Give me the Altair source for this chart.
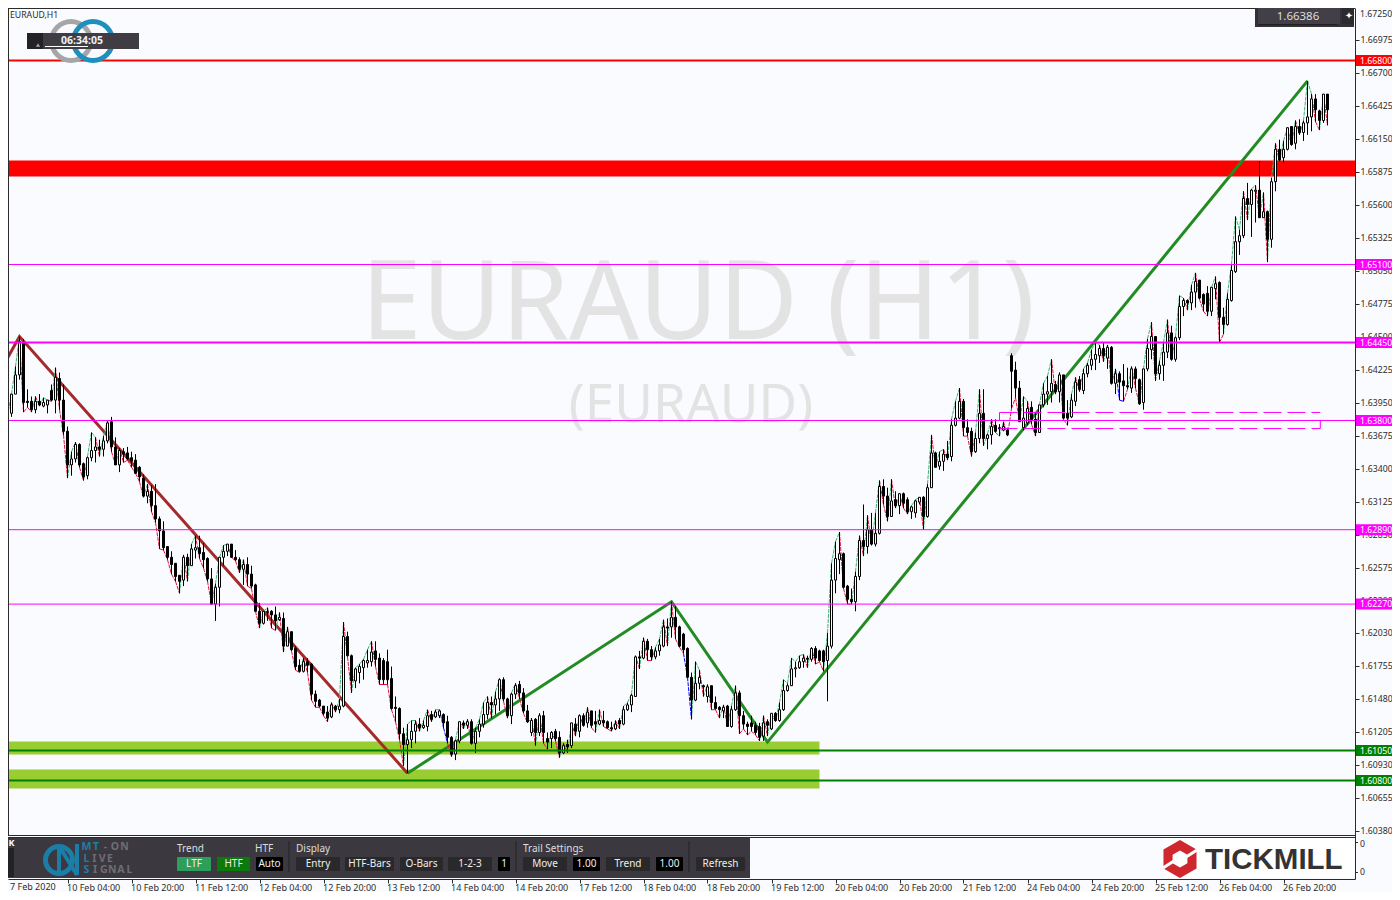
import altair as alt
import pandas as pd

# Bar values, in pips above 1.6000 (1.6 + v / 10000)
opens = [391,402,386,402,418,445,396,396,389,396,
392,393,405,397,415,397,371,343,348,360,
344,334,349,355,358,356,363,379,358,343,
354,353,349,347,341,332,317,321,309,298,
288,275,266,261,251,247,266,259,272,274,
270,265,248,227,241,266,271,277,266,264,
256,260,252,243,221,211,220,221,218,214,
215,192,204,190,176,171,179,177,152,147,
142,137,133,142,139,142,200,184,163,170,
174,178,179,188,182,180,179,165,141,140,
119,110,114,121,127,124,125,135,133,134,
135,129,116,102,113,128,126,129,111,121,
127,135,145,143,148,164,148,134,152,160,
153,138,120,131,120,134,115,115,121,116,
103,110,109,127,121,134,128,138,129,127,
130,129,124,123,130,127,139,143,150,183,
182,196,189,183,188,192,208,208,216,208,
202,190,166,147,161,159,150,159,145,141,
138,142,125,139,153,134,127,128,126,125,
117,129,123,136,130,139,155,159,173,174,
179,182,181,190,188,188,180,192,247,264,
269,242,231,229,250,280,275,289,277,286,
325,317,300,314,309,319,314,304,303,312,
316,300,324,353,342,346,352,350,376,382,
396,374,371,354,365,386,365,368,376,374,
372,372,434,422,407,374,378,391,381,370,
393,402,404,410,404,418,386,383,396,414,
405,419,426,431,434,440,432,441,411,419,
413,409,407,423,414,395,423,439,450,419,
426,437,453,431,449,475,480,478,487,497,
485,486,471,490,495,466,460,480,504,529,
534,565,560,571,572,549,554,531,579,606,
599,606,625,611,625,620,628,633,648,638,
630,652]
highs = [414,403,402,425,450,448,406,400,400,402,
399,397,410,424,420,410,375,354,362,361,
345,350,370,366,364,367,380,383,366,357,
357,358,354,352,342,335,327,326,327,300,
296,275,271,261,251,268,269,277,284,284,
278,266,257,244,266,276,277,277,272,266,
264,266,259,244,228,221,224,222,225,220,
220,208,204,192,181,182,182,178,155,148,
142,142,145,143,148,212,204,185,174,177,
181,189,196,196,186,182,189,175,150,141,
124,127,130,130,132,130,139,138,139,139,
136,134,117,114,129,130,131,131,124,131,
145,150,150,154,165,166,149,153,161,163,
157,143,132,132,136,138,120,121,123,121,
111,114,128,132,135,136,141,138,138,139,
138,130,129,130,132,142,145,152,184,188,
199,198,192,191,198,214,215,229,225,209,
203,191,170,179,172,160,160,159,150,142,
143,143,142,159,155,138,129,134,129,128,
134,131,136,137,145,164,161,182,179,184,
185,184,191,192,189,189,203,261,279,287,
270,243,240,254,284,310,301,303,303,330,
331,324,331,321,319,320,316,309,314,316,
317,327,368,354,354,356,363,381,396,407,
398,381,374,370,406,406,369,381,381,377,
379,374,436,429,413,400,396,396,386,393,
411,417,431,413,420,418,397,402,416,417,
423,428,439,445,443,445,443,442,423,421,
427,424,425,425,415,423,448,462,450,430,
445,464,459,450,484,482,481,493,503,497,
486,492,491,500,496,474,486,510,550,539,
571,578,573,576,596,570,555,582,611,614,
613,624,625,630,631,630,663,652,652,639,
652,652]
lows = [381,384,383,402,414,387,391,387,386,392,
391,386,396,386,389,368,332,334,345,341,
330,331,346,345,350,350,361,354,343,337,
345,347,341,336,329,316,311,304,295,273,
272,264,252,246,236,242,246,259,265,265,
257,246,227,213,225,259,267,266,263,253,
243,242,240,221,207,210,213,207,205,213,
187,192,188,172,170,170,170,147,141,141,
134,129,132,137,136,141,183,153,157,161,
164,174,175,175,160,160,160,139,129,114,
92,86,107,111,121,123,121,129,132,132,
124,111,100,97,111,123,123,110,103,116,
124,131,132,135,138,146,132,127,148,148,
136,128,117,109,117,111,106,107,113,99,
102,103,107,117,116,125,124,124,120,126,
125,123,121,122,123,126,138,137,150,173,
181,180,180,181,184,191,192,199,198,191,
186,166,131,146,156,150,145,139,139,132,
132,125,124,138,119,123,118,121,118,113,
113,117,122,129,129,138,154,159,166,173,
174,174,179,177,179,171,146,190,236,252,
240,227,227,221,247,267,269,276,275,285,
310,296,300,307,302,307,302,298,299,310,
289,299,324,341,339,338,347,346,375,381,
367,367,350,353,361,359,356,360,370,367,
371,367,390,399,379,372,376,377,367,370,
391,393,395,402,395,381,376,382,392,404,
402,416,422,422,428,429,423,410,402,397,
396,406,403,407,393,389,421,431,413,414,
413,432,430,429,447,467,472,472,474,481,
471,467,467,481,445,452,459,479,503,518,
532,547,533,545,549,549,512,524,571,596,
595,605,609,606,618,613,618,621,629,622,
628,626]
closes = [402,386,402,418,446,395,395,389,396,393,
395,397,397,416,397,371,343,348,360,343,
333,349,355,358,356,363,378,358,343,355,
352,348,346,336,333,317,321,309,298,288,
274,266,260,250,246,266,259,273,274,269,
264,248,227,241,266,271,277,266,264,256,
260,252,242,221,211,221,221,218,213,216,
192,204,189,175,171,179,176,152,146,142,
136,132,143,139,142,200,184,163,173,175,
180,180,187,181,164,164,164,140,140,119,
110,114,121,127,124,126,134,131,137,138,
128,116,102,113,129,126,129,111,121,127,
135,145,143,148,164,148,134,152,159,153,
138,129,130,120,134,120,112,120,115,103,
109,108,128,121,134,126,137,126,127,130,
128,124,123,127,127,139,143,151,183,182,
196,189,183,188,193,208,207,216,208,192,
189,166,147,161,166,158,158,145,140,139,
141,125,139,153,134,127,125,125,120,116,
128,126,136,130,139,155,159,173,174,179,
182,181,190,182,180,179,192,247,265,269,
241,231,229,250,280,275,289,277,286,325,
317,300,313,309,319,311,304,308,313,316,
300,324,353,341,346,352,349,376,382,396,
374,370,354,365,386,365,368,375,371,373,
375,368,421,407,379,382,390,381,370,393,
402,404,411,404,418,382,382,397,412,406,
419,426,431,435,440,434,441,411,419,412,
409,408,423,415,394,423,440,450,419,426,
437,453,431,449,475,480,478,487,496,482,
477,471,491,494,466,460,481,505,529,534,
565,560,572,572,549,554,531,579,606,597,
606,624,610,625,620,628,633,648,639,630,
652,639]
blue_bars = [110, 111, 113, 171, 172, 279, 280]

down_bars = [0, 4, 101]
down_prices = [1.6426, 1.6450, 1.6086]
up_bars = [101, 167, 191, 326]
up_prices = [1.6086, 1.6229, 1.6112, 1.6663]

red_levels = [1.66800]
magenta_thin = [1.65100, 1.63800, 1.62890, 1.62270]
magenta_thick = [1.64450]
green_levels = [1.61050, 1.60800]
red_band = [1.65967, 1.65833]
green_bands = [(1.61125, 1.61017), (1.60892, 1.60733)]
band_end_bar = 204
box_prices = [1.63867, 1.63733]
box_bars = [249, 329.2]

price_ticks = [1.66975, 1.66700, 1.66425, 1.66150, 1.65875, 1.65600, 1.65325,
               1.65050, 1.64775, 1.64500, 1.64225, 1.63950, 1.63675, 1.63400,
               1.63125, 1.62850, 1.62575, 1.62300, 1.62030, 1.61755, 1.61480,
               1.61205, 1.60930, 1.60655, 1.60380]
time_ticks = list(range(16, 321, 16))
time_labels = ["10 Feb 04:00", "10 Feb 20:00", "11 Feb 12:00", "12 Feb 04:00",
               "12 Feb 20:00", "13 Feb 12:00", "14 Feb 04:00", "14 Feb 20:00",
               "17 Feb 12:00", "18 Feb 04:00", "18 Feb 20:00", "19 Feb 12:00",
               "20 Feb 04:00", "20 Feb 20:00", "21 Feb 12:00", "24 Feb 04:00",
               "24 Feb 20:00", "25 Feb 12:00", "26 Feb 04:00", "26 Feb 20:00"]

BG = "#fafbfe"
INK = "#2b2b2b"
PANEL = "#3b393f"
BTN = "#29282b"
FONT = "Noto Sans"
SMALL = 8.7
OFF = 8  # page margin: reference pixels are shifted by it

def p(v):
    return 1.6 + v / 10000

rows = []
prev_end = p(opens[0])
for i, (o, h, l, c) in enumerate(zip(opens, highs, lows, closes)):
    up = c >= o
    end = p(h) if up else p(l)
    colour = "#0000ff" if i in blue_bars else ("#3cb371" if up else "#dc143c")
    rows.append(dict(i=i, i0=max(i - 1, 0), o=p(o), h=p(h), l=p(l), c=p(c),
                     fill="#fafbfe" if up else "#000000",
                     start=prev_end, end=end, colour=colour))
    prev_end = end
bars = pd.DataFrame(rows)

xs = alt.Scale(domain=[1.125, 337.875], nice=False, zero=False, padding=0)
ys = alt.Scale(domain=[1.599792, 1.672375], nice=False, zero=False, padding=0)
X = lambda f: alt.X(f, type="quantitative", scale=xs, axis=None)
Y = lambda f: alt.Y(f, type="quantitative", scale=ys, axis=None)

label_expr = "{" + ",".join(f"'{t}':'{s}'" for t, s in zip(time_ticks, time_labels)) + "}[datum.value]"
axes = alt.Chart(bars).mark_point(opacity=0).encode(
    x=alt.X("i:Q", scale=xs, axis=alt.Axis(
        values=time_ticks, labelExpr=label_expr, title=None, grid=False, orient="bottom",
        labelAlign="left", labelBaseline="middle", labelPadding=4, labelOffset=-1, labelFont=FONT,
        labelFontSize=9, labelColor=INK, labelOverlap=False, labelFlush=False, labelBound=False,
        domainColor=INK, tickColor=INK, tickSize=4)),
    y=alt.Y("h:Q", scale=ys, axis=alt.Axis(
        values=price_ticks, format=".5f", title=None, grid=False, orient="right",
        labelPadding=1, labelFont=FONT, labelFontSize=SMALL, labelColor=INK, labelOverlap=False,
        labelFlush=False, labelBound=False, domainColor=INK, tickColor=INK, tickSize=4)),
)


def value_text(text, x, y, color="#dddddd", size=10, align="left", **kw):
    font = kw.pop("font", FONT)
    return alt.Chart().mark_text(text=text, color=color, fontSize=size, align=align,
                                 baseline="middle", font=font, **kw).encode(
        x=alt.value(x - OFF), y=alt.value(y - OFF))


def box(x0, x1, y0, y1, color, **kw):
    return alt.Chart().mark_rect(color=color, **kw).encode(
        x=alt.value(x0 - OFF), x2=alt.value(x1 - OFF),
        y=alt.value(y0 - OFF), y2=alt.value(y1 - OFF))


def seg(x0, y0, x1, y1, color, width=1, **kw):
    return alt.Chart().mark_rule(color=color, strokeWidth=width, **kw).encode(
        x=alt.value(x0 - OFF), x2=alt.value(x1 - OFF),
        y=alt.value(y0 - OFF), y2=alt.value(y1 - OFF))


def ring(cx, cy, r, w, color, t0=0.0, t1=6.2832):
    return alt.Chart().mark_arc(color=color, innerRadius=r - w, outerRadius=r,
                                theta=t0, theta2=t1).encode(
        x=alt.value(cx - OFF), y=alt.value(cy - OFF))


watermark = [
    value_text("EURAUD (H1)", 698, 306, "#e3e3e3", 109, "center"),
    value_text("(EURAUD)", 691, 406, "#e3e3e3", 53, "center"),
]

bands = [
    alt.Chart(pd.DataFrame([dict(a=a, b=b, s=0, e=band_end_bar) for a, b in green_bands])).mark_rect(
        color="#9acd32", clip=True).encode(x=X("s"), x2="e", y=Y("a"), y2="b"),
    alt.Chart(pd.DataFrame([dict(a=red_band[0], b=red_band[1])])).mark_rect(color="#ff0000").encode(
        y=Y("a"), y2="b", x=alt.value(0), x2=alt.value(1347)),
]

zig_down = alt.Chart(pd.DataFrame(dict(i=down_bars, v=down_prices))).mark_line(
    color="#a52a2a", strokeWidth=3, clip=True).encode(x=X("i"), y=Y("v"))
zig_up = alt.Chart(pd.DataFrame(dict(i=up_bars, v=up_prices))).mark_line(
    color="#228b22", strokeWidth=3, clip=True).encode(x=X("i"), y=Y("v"))

trace = alt.Chart(bars).mark_rule(strokeWidth=1, strokeDash=[4, 1], clip=True).encode(
    x=X("i0"), x2="i", y=Y("start"), y2="end", color=alt.Color("colour:N", scale=None))
wicks = alt.Chart(bars).mark_rule(color="#000000", strokeWidth=1, clip=True).encode(
    x=X("i"), y=Y("l"), y2="h")
bodies = alt.Chart(bars).mark_bar(width=2, stroke="#000000", strokeWidth=1, clip=True).encode(
    x=X("i"), y=Y("o"), y2="c", fill=alt.Fill("fill:N", scale=None))


def levels(vals, color, width):
    return alt.Chart(pd.DataFrame(dict(v=vals))).mark_rule(color=color, strokeWidth=width).encode(
        y=Y("v"), x=alt.value(0), x2=alt.value(1347))


def tags(vals, color):
    d = pd.DataFrame(dict(v=vals))
    return [
        alt.Chart(d).mark_rule(color=color, strokeWidth=11).encode(
            y=Y("v"), x=alt.value(1356 - OFF), x2=alt.value(1398 - OFF)),
        alt.Chart(d).mark_text(color="#ffffff", fontSize=SMALL, font=FONT, align="left",
                               baseline="middle").encode(
            y=Y("v"), x=alt.value(1360 - OFF), text=alt.Text("v:Q", format=".5f")),
    ]


box_df = pd.DataFrame(dict(a=[box_bars[0]], b=[box_bars[1]], t=[box_prices[0]], u=[box_prices[1]],
                           m=[1.63800]))
box_marks = [
    alt.Chart(box_df).mark_rule(color="#ff00ff", strokeWidth=1, strokeDash=[18, 6]).encode(
        x=X("a"), x2="b", y=Y("t")),
    alt.Chart(box_df).mark_rule(color="#ff00ff", strokeWidth=1, strokeDash=[18, 6]).encode(
        x=X("a"), x2="b", y=Y("u")),
    alt.Chart(box_df).mark_rule(color="#ff00ff", strokeWidth=1).encode(x=X("a"), y=Y("t"), y2="m"),
    alt.Chart(box_df).mark_rule(color="#ff00ff", strokeWidth=1).encode(x=X("b"), y=Y("m"), y2="u"),
]

frame = [
    seg(8, 8.5, 1355, 8.5, INK),
    seg(8.5, 8, 8.5, 835, INK),
    seg(8, 835.5, 1355, 835.5, INK),
    seg(8, 837.5, 1355, 837.5, INK),
    seg(1355, 842.5, 1358, 842.5, INK),
    seg(1355, 872.5, 1358, 872.5, INK),
    value_text("0", 1360, 844, INK, SMALL),
    value_text("0", 1360, 872, INK, SMALL),
    value_text("1.67250", 1360, 14, INK, SMALL),
    value_text("7 Feb 2020", 10, 887, INK, 9),
    value_text("EURAUD,H1", 10, 15, INK, SMALL),
]

logo = [
    ring(71, 41, 22, 5, "#a6a6a6"),
    ring(93, 41, 22, 5, "#1f8fbb"),
    box(27, 139, 33, 49, "#3f3c44"),
    box(27, 43, 33, 49, "#232226"),
    alt.Chart().mark_point(shape="triangle-up", color="#dddddd", filled=True, size=18).encode(
        x=alt.value(38 - OFF), y=alt.value(45 - OFF)),
    value_text("06:34:05", 82, 41, "#f2f2f2", 10.5, "center", fontWeight="bold"),
    seg(45, 46.5, 88, 46.5, "#ffffff"),
]

price_box = [
    box(1255, 1354, 8, 27, "#333136"),
    box(1258, 1340, 8, 24, "#433f48"),
    box(1342, 1354, 8, 24, "#2b2a2e"),
    value_text("1.66386", 1298, 16.5, "#dddddd", 11.5, "center"),
    seg(1259, 24.5, 1337, 24.5, "#1e1e20"),
    value_text("\u2726", 1349, 16, "#ffffff", 10, "center", font="DejaVu Sans"),
]

toolbar = [
    box(8, 750, 838, 878, PANEL),
    box(8, 14, 848, 877, "#232226"),
    value_text("K", 8.5, 843, "#ffffff", 9, "left", fontWeight="bold"),
    ring(59, 860, 16, 5, "#1b7ea8"),
    seg(59, 846, 59, 875, "#1b7ea8", 4),
    seg(59, 846, 77, 875, "#1b7ea8", 4),
    seg(77, 844, 77, 875, "#1b7ea8", 4),
    value_text("Trend", 177, 849, "#dddddd", 10),
    value_text("HTF", 255, 849, "#dddddd", 10),
    value_text("Display", 296, 849, "#dddddd", 10),
    value_text("Trail Settings", 523, 849, "#dddddd", 10),
    seg(289, 841, 289, 872, "#232226"),
    seg(516, 841, 516, 872, "#232226"),
    seg(689, 841, 689, 872, "#232226"),
]
BLUE, GREY = "#1b7ea8", "#6e6e74"
for word, y, colours, step in [
    ("MT-ON", 847, [BLUE, BLUE, GREY, GREY, GREY], 9.5),
    ("LIVE", 859, [BLUE, GREY, GREY, GREY], 7.8),
    ("SIGNAL", 870, [BLUE, GREY, GREY, GREY, GREY, GREY], 8.6),
]:
    for k, (ch, col) in enumerate(zip(word, colours)):
        toolbar.append(value_text(ch, 86.5 + k * step, y, col, 10.5, "center", fontWeight="bold"))
for x0, x1, fill, text in [
    (177, 211, "#2e9e5b", "LTF"), (217, 250, "#0a7a0a", "HTF"), (256, 283, "#000000", "Auto"),
    (296, 340, BTN, "Entry"), (345, 394, BTN, "HTF-Bars"), (400, 443, BTN, "O-Bars"),
    (448, 492, BTN, "1-2-3"), (498, 510, "#000000", "1"), (523, 567, BTN, "Move"),
    (573, 600, "#000000", "1.00"), (606, 650, BTN, "Trend"), (656, 683, "#000000", "1.00"),
    (696, 745, BTN, "Refresh"),
]:
    toolbar.append(box(x0, x1, 857, 871, fill, cornerRadius=1))
    toolbar.append(value_text(text, (x0 + x1) / 2, 864, "#eeeeee", 10, "center"))

hexagon = "M0,-1 L0.87,-0.5 L0.87,0.5 L0,1 L-0.87,0.5 L-0.87,-0.5 Z"
tickmill = [
    box(1164, 1354, 838, 878, "#ffffff"),
    alt.Chart().mark_point(shape=hexagon, filled=True, color="#d0262d", opacity=1, size=1444).encode(
        x=alt.value(1180 - OFF), y=alt.value(859 - OFF)),
    alt.Chart().mark_point(shape=hexagon, filled=True, color="#ffffff", opacity=1, size=289).encode(
        x=alt.value(1180 - OFF), y=alt.value(859 - OFF)),
    seg(1163, 868, 1177, 859, "#ffffff", 3),
    seg(1183, 859, 1197, 850, "#ffffff", 3),
    value_text("TICKMILL", 1205, 860, "#333333", 29.5, "left", fontWeight="bold",
               font="Liberation Sans"),
]

chart = alt.layer(
    axes, *watermark, *bands, zig_down, zig_up, trace, wicks, bodies,
    levels(red_levels, "#ff0000", 2), levels(magenta_thin, "#ff00ff", 1),
    levels(magenta_thick, "#ff00ff", 2), levels(green_levels, "#008000", 2),
    *box_marks, *frame, *logo, *price_box, *toolbar, *tickmill,
    *tags(red_levels, "#ff0000"), *tags(magenta_thin + magenta_thick, "#ff00ff"),
    *tags(green_levels, "#008000"),
).resolve_scale(x="shared", y="shared").resolve_axis(x="independent", y="independent").properties(
    width=1347, height=871, background=BG,
    padding={"left": 0, "top": 0, "right": 37, "bottom": 13},
    autosize=alt.AutoSizeParams(type="none"),
).configure_view(strokeWidth=0)

chart.save("out.html", embed_options={"renderer": "svg", "actions": False})
